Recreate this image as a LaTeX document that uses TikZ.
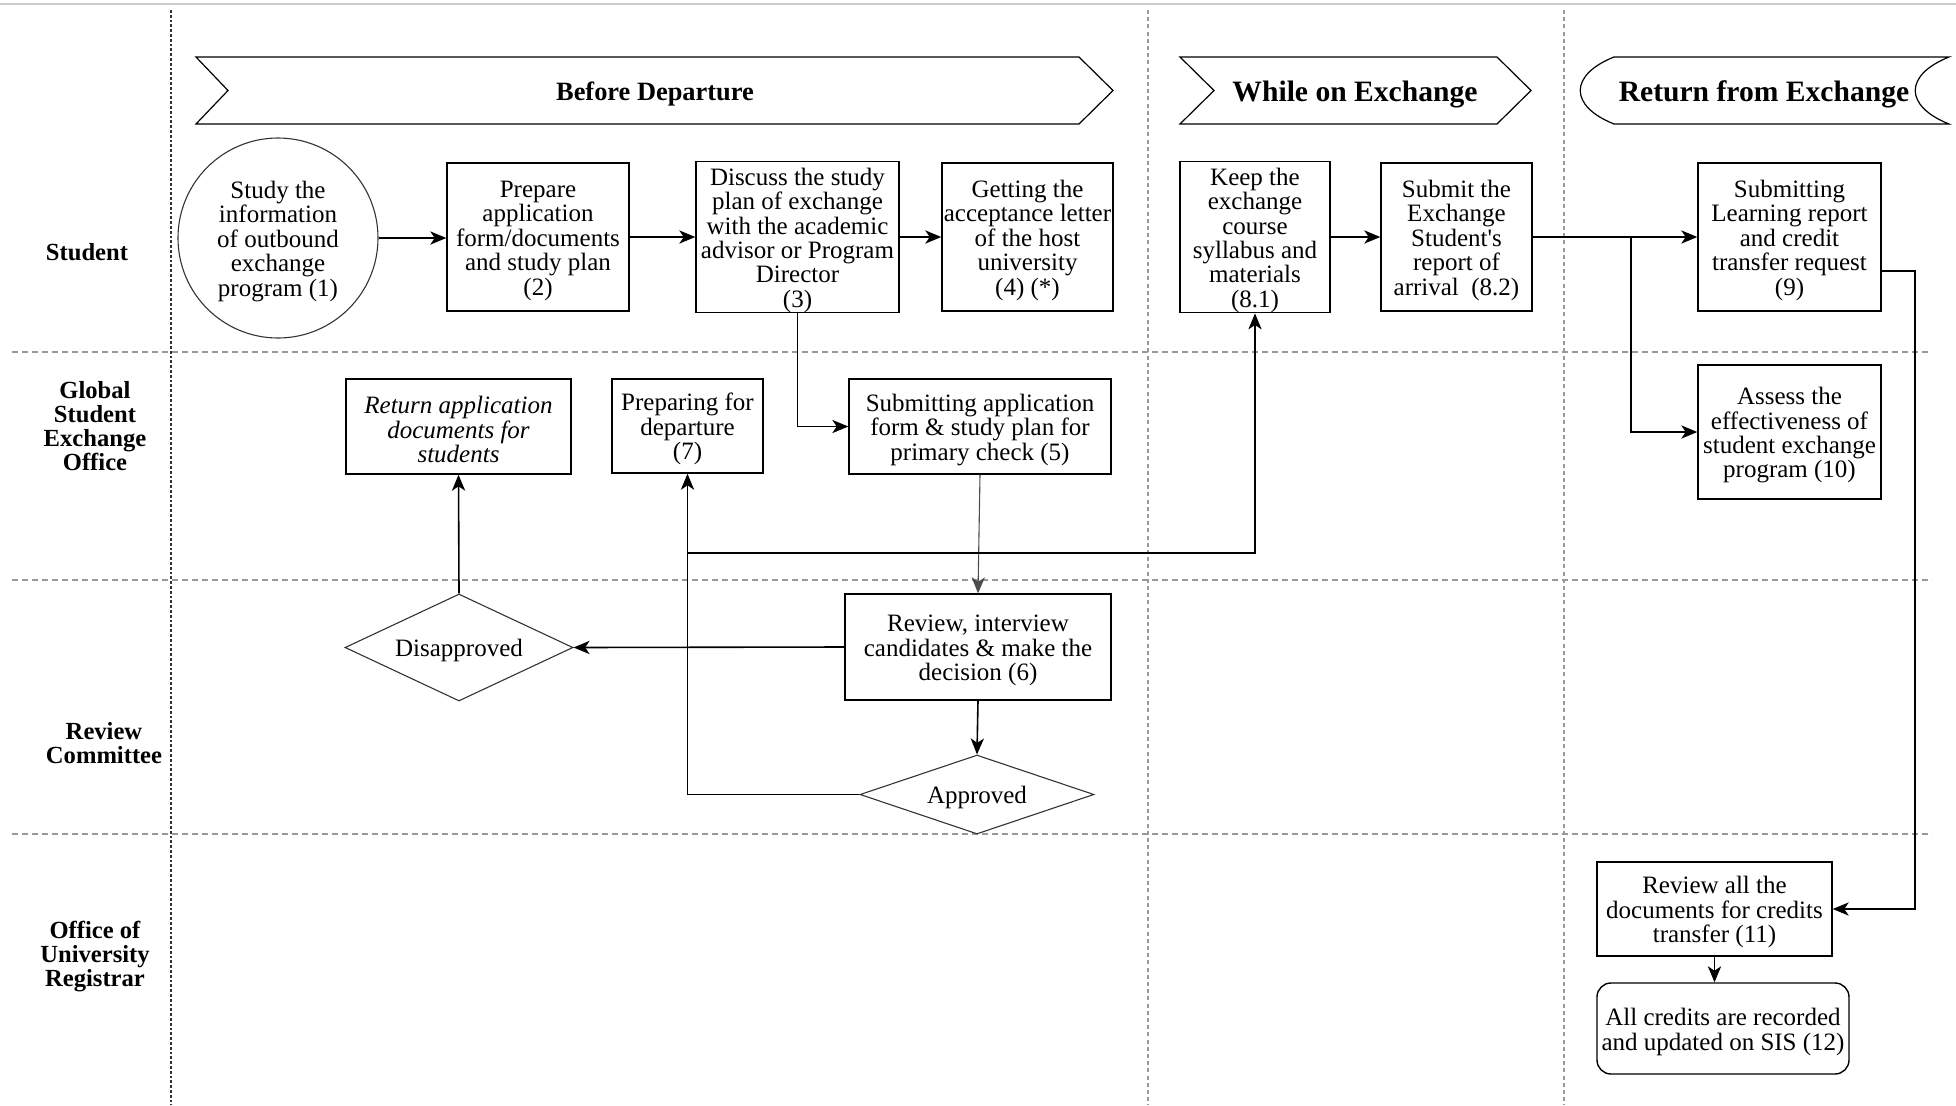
\documentclass[tikz,border=0pt]{standalone}
\usepackage{fontspec}
\setmainfont{Liberation Serif}
\usetikzlibrary{shapes.geometric,arrows.meta,calc}
\newcommand\boxfont{\fontsize{12.5}{12.2}\selectfont}
\newcommand\topstrut{\rule{0pt}{12pt}}
\tikzset{
  box/.style={draw, line width=0.7pt, align=center, inner sep=0pt, font=\boxfont},
  dia/.style={diamond, draw=black!80, line width=0.55pt, align=center, inner sep=0pt, font=\boxfont},
  arr/.style={-{Stealth[length=8pt,width=6.6pt,inset=2.2pt]}, line width=0.8pt},
  arrthin/.style={-{Stealth[length=8pt,width=6.6pt,inset=2.2pt]}, line width=0.55pt, draw=black!70},
  hlane/.style={draw=gray!80, line width=0.6pt, dash pattern=on 3pt off 2pt},
  vlane/.style={draw=gray!80, line width=0.7pt, dash pattern=on 2pt off 1.6pt},
  vlaneA/.style={draw=black!80, line width=0.8pt, dash pattern=on 1.4pt off 1pt},
  banner/.style={draw, line width=0.6pt},
  bannertext/.style={font=\bfseries\fontsize{14.8}{16}\selectfont, inner sep=0pt},
  lanelabel/.style={align=center, inner sep=0pt, font=\bfseries\fontsize{12.3}{12}\selectfont},
}
\begin{document}
\begin{tikzpicture}[x=0.5pt,y=-0.5pt]
\useasboundingbox (0,0) rectangle (1956,1105);
% top border
\draw[gray!40, line width=0.8pt] (0,4) -- (1956,4);
% lane separators
\draw[hlane] (12,352) -- (1932,352);
\draw[hlane] (12,580) -- (1932,580);
\draw[hlane] (12,834) -- (1932,834);
\draw[vlaneA] (171,10) -- (171,1105);
\draw[vlane] (1148,10) -- (1148,1105);
\draw[vlane] (1564,10) -- (1564,1105);
% banners
\draw[banner] (196,57) -- (1079,57) -- (1113,90.5) -- (1079,124) -- (196,124) -- (228,90.5) -- cycle;
\node[bannertext, font=\bfseries\fontsize{13.2}{15}\selectfont] (bd) at (655,94) {Before Departure};
\draw[banner] (1180,57) -- (1497,57) -- (1531,90.5) -- (1497,124) -- (1180,124) -- (1214,90.5) -- cycle;
\node[bannertext] (we) at (1355,94) {While on Exchange};
\draw[banner] (1614,57) -- (1949,57) .. controls (1904,75) and (1904,106) .. (1949,124) -- (1614,124) .. controls (1569,106) and (1569,75) .. (1614,57) -- cycle;
\node[bannertext] (re) at (1764,94) {Return from Exchange};
% lane labels
\node[lanelabel] (lst) at (87,252) {Student};
\node[lanelabel] (lgs) at (95,426) {Global\\Student\\Exchange\\Office};
\node[lanelabel] (lrc) at (104,743) {Review\\Committee};
\node[lanelabel] (lor) at (95,957) {Office of\\University\\Registrar};
% student lane
\node[circle, draw=black!80, line width=0.55pt, minimum size=100pt, inner sep=0pt, align=center, font=\boxfont] (n1) at (278,238) {\topstrut Study the\\information\\of outbound\\exchange\\program (1)};
\node[box, minimum width=91pt, minimum height=74pt] (n2) at (538,237) {\topstrut Prepare\\application\\form/documents\\and study plan\\(2)};
\node[box, minimum width=101.5pt, minimum height=74pt] (n3) at (797.5,237) {\topstrut Discuss the study\\plan of exchange\\with the academic\\advisor or Program\\Director\\(3)};
\node[box, minimum width=85.5pt, minimum height=74pt] (n4) at (1027.5,237) {\topstrut Getting the\\acceptance letter\\of the host\\university\\(4) (*)};
\node[box, minimum width=75pt, minimum height=74pt] (n81) at (1255,237) {\topstrut Keep the\\exchange\\course\\syllabus and\\materials\\(8.1)};
\node[box, minimum width=75.5pt, minimum height=74pt] (n82) at (1456.5,237) {\topstrut Submit the\\Exchange\\Student\textquotesingle s\\report of\\arrival\ \ (8.2)};
\node[box, minimum width=91.5pt, minimum height=74pt] (n9) at (1789.5,237) {\topstrut Submitting\\Learning report\\and credit\\transfer request\\(9)};
% global student exchange office lane
\node[box, minimum width=112.5pt, minimum height=47.5pt, font={\boxfont\itshape}] (nret) at (458.5,426.5) {\topstrut Return application\\documents for\\students};
\node[box, minimum width=75.5pt, minimum height=47pt] (n7) at (687.5,426) {\topstrut Preparing for\\departure\\(7)};
\node[box, minimum width=131pt, minimum height=47.5pt] (n5) at (980,426.5) {\topstrut Submitting application\\form \& study plan for\\primary check (5)};
\node[box, minimum width=91.5pt, minimum height=67pt] (n10) at (1789.5,432) {\topstrut Assess the\\effectiveness of\\student exchange\\program (10)};
% review committee lane
\node[box, minimum width=133pt, minimum height=53pt] (n6) at (978,647) {\topstrut Review, interview\\candidates \& make the\\decision (6)};
\node[dia, aspect=2.13, minimum width=114pt, minimum height=53.5pt] (dis) at (459,647.5) {\topstrut Disapproved};
\node[dia, aspect=2.96, minimum width=117pt, minimum height=39.5pt] (app) at (977,794.5) {\topstrut Approved};
% registrar lane
\node[box, minimum width=117.5pt, minimum height=47pt] (n11) at (1714.5,909) {\topstrut Review all the\\documents for credits\\transfer (11)};
\node[box, rounded corners=7pt, minimum width=126pt, minimum height=45.5pt] (n12) at (1723,1028.5) {\topstrut All credits are recorded\\and updated on SIS (12)};
% connectors
\draw[arr] (n1.east) -- (n1.east -| n2.west);
\draw[arr] (n2.east) -- (n3.west);
\draw[arr] (n3.east) -- (n4.west);
\draw[arr] (n3.south) |- (n5.west);
\draw[arrthin] (n5.south) -- (n6.north);
\draw[arr] (n6.west) -- (dis.east);
\draw[arr] (dis.north) -- (nret.south);
\draw[arr] (n6.south) -- (app.north);
\draw[arr] (app.west) -| (n7.south);
\coordinate (j1) at (687.5,553);
\draw[arr] (j1) -| (n81.south);
\draw[arr] (n81.east) -- (n82.west);
\draw[arr] (n82.east) -- (n9.west);
\coordinate (j2) at (1631,237);
\draw[arr] (j2) |- (n10.west);
\coordinate (c9) at (1881,271);
\coordinate (c9b) at (1915,271);
\draw[arr] (c9) -- (c9b) |- (n11.east);
\draw[arr] (n11.south) -- (n11.south |- n12.north);
\end{tikzpicture}
\end{document}
